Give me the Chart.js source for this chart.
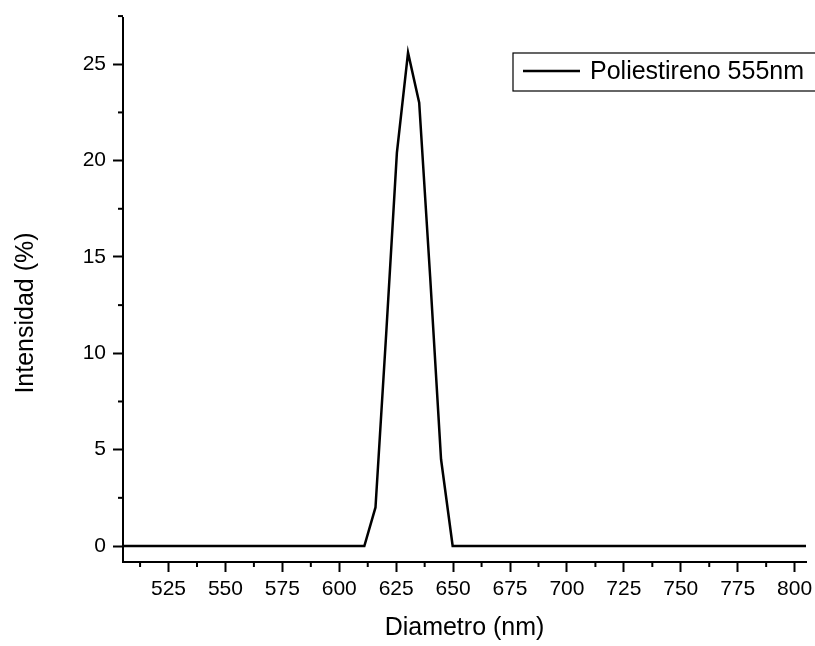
<!DOCTYPE html>
<html>
<head>
<meta charset="utf-8">
<script src="https://cdn.jsdelivr.net/npm/chart.js@4"></script>
<style>
  html, body { margin: 0; padding: 0; background: #fff; }
  #wrap { width: 815px; height: 646px; }
</style>
</head>
<body>
<div id="wrap"><canvas id="myChart"></canvas></div>
<script>
// Data
const diametro = [505, 611, 615.9, 620.6, 625.3, 630.2, 635.1, 639.9, 644.7, 649.8, 805];
const intensidad = [0, 0, 2.0, 11.0, 20.4, 25.6, 23.0, 14.0, 4.5, 0, 0];
const seriesLabel = 'Poliestireno 555nm';
const yTitle = 'Intensidad (%)';

const xTicks = [525, 550, 575, 600, 625, 650, 675, 700, 725, 750, 775, 800];
const xMinorTicks = [512.5, 537.5, 562.5, 587.5, 612.5, 637.5, 662.5, 687.5, 712.5, 737.5, 762.5, 787.5];
const yTicks = [0, 5, 10, 15, 20, 25];
const yMinorTicks = [2.5, 7.5, 12.5, 17.5, 22.5, 27.5];

const FONT = '"Liberation Sans", Arial, sans-serif';
const ctx = document.getElementById('myChart').getContext('2d');

// minor ticks, y title and boxed legend, Origin style
const originPlugin = {
    id: 'originExtras',
    afterDraw: (chart) => {
        const { ctx, scales, chartArea } = chart;
        ctx.save();
        ctx.strokeStyle = '#000';
        ctx.lineWidth = 2;

        xMinorTicks.forEach(v => {
            const x = scales.x.getPixelForValue(v);
            ctx.beginPath();
            ctx.moveTo(x, chartArea.bottom);
            ctx.lineTo(x, chartArea.bottom + 5);
            ctx.stroke();
        });
        yMinorTicks.forEach(v => {
            const y = scales.y.getPixelForValue(v);
            ctx.beginPath();
            ctx.moveTo(chartArea.left, y);
            ctx.lineTo(chartArea.left - 5, y);
            ctx.stroke();
        });

        // y title sits a bit lower than the plot centre in the original
        ctx.fillStyle = '#000';
        ctx.save();
        ctx.translate(26, 313);
        ctx.rotate(-Math.PI / 2);
        ctx.font = '25px ' + FONT;
        ctx.textAlign = 'center';
        ctx.textBaseline = 'middle';
        ctx.fillText(yTitle, 0, 0);
        ctx.restore();

        // legend box
        const bx = 513, by = 53;
        ctx.lineWidth = 1.2;
        ctx.strokeRect(bx, by, 330, 38);
        ctx.lineWidth = 2.5;
        ctx.beginPath();
        ctx.moveTo(bx + 10, by + 18);
        ctx.lineTo(bx + 67, by + 18);
        ctx.stroke();
        ctx.font = '25px ' + FONT;
        ctx.textBaseline = 'middle';
        ctx.textAlign = 'left';
        ctx.fillText(seriesLabel, bx + 77, by + 19);
        ctx.restore();
    }
};

new Chart(ctx, {
    type: 'line',
    data: {
        datasets: [{
            label: seriesLabel,
            data: diametro.map((d, i) => ({ x: d, y: intensidad[i] })),
            borderColor: '#000',
            borderWidth: 2.5,
            tension: 0,
            pointRadius: 0,
            fill: false
        }]
    },
    plugins: [originPlugin],
    options: {
        responsive: true,
        maintainAspectRatio: false,
        animation: false,
        layout: { padding: { top: 18, right: 9, left: 0, bottom: 0 } },
        plugins: {
            legend: { display: false },
            tooltip: { enabled: false }
        },
        scales: {
            x: {
                type: 'linear',
                min: 505,
                max: 805,
                afterBuildTicks: (scale) => { scale.ticks = xTicks.map(v => ({ value: v })); },
                afterFit: (scale) => {
                    scale.height = 84;
                    // keep the plot edge fixed, label overhang is fine
                    scale.paddingLeft = 0;
                    scale.paddingRight = 0;
                },
                ticks: {
                    autoSkip: false,
                    maxRotation: 0,
                    color: '#000',
                    padding: 5,
                    font: { family: FONT, size: 21 }
                },
                grid: {
                    drawOnChartArea: false,
                    drawTicks: true,
                    tickLength: 10,
                    tickWidth: 2,
                    tickColor: '#000'
                },
                border: { color: '#000', width: 2 },
                title: {
                    display: true,
                    text: 'Diametro (nm)',
                    color: '#000',
                    font: { family: FONT, size: 25 },
                    padding: { top: 0, bottom: 3 }
                }
            },
            y: {
                type: 'linear',
                min: -0.83,
                max: 27.4,
                afterBuildTicks: (scale) => { scale.ticks = yTicks.map(v => ({ value: v })); },
                afterFit: (scale) => {
                    scale.width = 123;
                    scale.paddingTop = 0;
                    scale.paddingBottom = 0;
                },
                ticks: {
                    color: '#000',
                    padding: 7,
                    font: { family: FONT, size: 21 }
                },
                grid: {
                    drawOnChartArea: false,
                    drawTicks: true,
                    tickLength: 10,
                    tickWidth: 2,
                    tickColor: '#000'
                },
                border: { color: '#000', width: 2 },
                title: { display: false }
            }
        }
    }
});
</script>
</body>
</html>
